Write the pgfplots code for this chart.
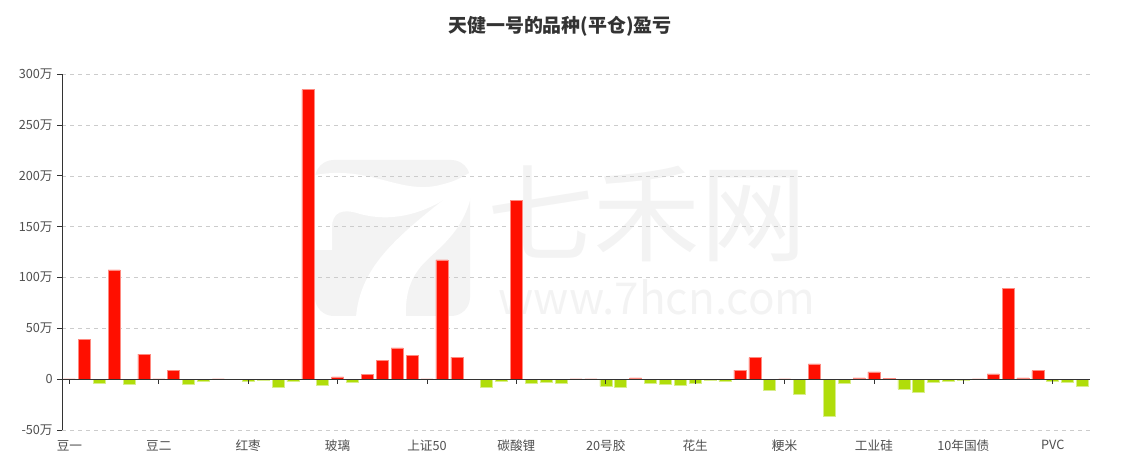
\documentclass[border=0pt]{standalone}
\usepackage{fontspec}
\setmainfont{Noto Sans CJK SC}
\usepackage{pgfplots}
\pgfplotsset{compat=1.18}
\definecolor{barred}{HTML}{FF0F00}
\definecolor{barredE}{HTML}{FF8A80}
\definecolor{bargreen}{HTML}{B0DD0A}
\definecolor{bargreenE}{HTML}{D8EE8A}
\definecolor{txt}{HTML}{333333}
\definecolor{lbl}{HTML}{4F4F4F}
\definecolor{gridc}{HTML}{CCCCCC}
\definecolor{wm}{HTML}{F3F3F3}
\begin{document}
\begin{tikzpicture}
\useasboundingbox (0,0) rectangle (849pt,355.5pt);
\node[text=txt,font=\bfseries\fontsize{14.2}{16}\selectfont] at (420pt,335.5pt) {天健一号的品种(平仓)盈亏};
% watermark (in image pixels, origin top-left)
\begin{scope}[shift={(0pt,355.5pt)}, x=0.75pt, y=-0.75pt]
  \fill[wm, rounded corners=14] (315,160) rectangle (470,316);
  \fill[white] (315,175) .. controls (370,165) and (400,195) .. (440,185)
     .. controls (455,181) .. (471,172) -- (471,197) -- (447,198)
     .. controls (420,215) and (390,222) .. (360,214)
     .. controls (342,208) and (332,212) .. (332,228) -- (332,250) -- (314,250) -- cycle;
  \fill[white] (447,197) -- (471,197) .. controls (462,232) and (440,247) .. (425,262)
     .. controls (410,277) and (405,295) .. (406,317) -- (356,317)
     .. controls (360,268) and (395,238) .. (447,197) -- cycle;
  \node[text=wm,font=\fontsize{80}{84}\selectfont] at (647,214) {七禾网};
  \node[text=wm,font=\fontsize{33}{36}\selectfont] at (657,297) {www.7hcn.com};
\end{scope}
\begin{axis}[
  scale only axis,
  width=771pt, height=266.8pt,
  at={(46.5pt,33pt)}, anchor=south west,
  xmin=-0.5, xmax=68.5,
  ymin=-50, ymax=300,
  ybar, bar width=9pt, bar shift=0pt,
  axis lines*=left,
  x axis line style={draw=none},
  y axis line style={draw=txt, line width=0.6pt},
  xtick={0,6,...,66},
  xticklabels={豆一,豆二,红枣,玻璃,上证50,碳酸锂,20号胶,花生,粳米,工业硅,10年国债,PVC},
  xtick style={draw=none},
  ytick={-50,0,50,100,150,200,250,300},
  yticklabels={-50万,0,50万,100万,150万,200万,250万,300万},
  ytick style={draw=txt, line width=0.6pt},
  tick align=outside,
  major tick length=3.5pt,
  ymajorgrids,
  major grid style={draw=gridc, dashed, line width=0.5pt},
  tick label style={text=lbl, font=\fontsize{9.5}{11}\selectfont},
  xticklabel style={yshift=-0.5pt},
  /pgf/number format/assume math mode=true,
]
\addplot[fill=barred, draw=barredE, line width=0.4pt] coordinates {
(0,0.3) (1,39.3) (3,107.5) (5,24.6) (6,0.3) (7,8.9) (10,0.3)
(16,285) (18,2.3) (20,4.9) (21,18.7) (22,30.8) (23,23.3) (24,0.2)
(25,117.4) (26,21.6) (30,175.7) (34,0.2) (35,0.4) (38,1.3)
(45,8.9) (46,21.3) (48,0.2) (50,15.1) (53,1.3) (54,7.2) (55,0.5)
(61,0.2) (62,5.2) (63,89.5) (64,1.3) (65,8.5)
};
\addplot[fill=bargreen, draw=bargreenE, line width=0.4pt] coordinates {
(2,-4.3) (4,-4.6) (8,-5.2) (9,-2.3) (11,-0.5) (12,-2.3) (13,-0.8)
(14,-7.5) (15,-2.3) (17,-6.2) (19,-2.6) (27,-0.5) (28,-7.9) (29,-2.0)
(31,-4.3) (32,-3.3) (33,-3.6) (36,-7.2) (37,-7.9) (39,-3.6) (40,-5.2)
(41,-6.2) (42,-3.6) (43,-1.0) (44,-2.0) (47,-11.1) (49,-14.8) (51,-36.7)
(52,-3.9) (56,-9.8) (57,-12.8) (58,-3.0) (59,-1.6) (60,-1.3)
(66,-2.3) (67,-2.6) (68,-7.2)
};
\draw[txt, line width=0.6pt] (axis cs:-0.5,0) -- (axis cs:68.5,0);
\pgfplotsinvokeforeach{0,6,12,18,24,30,36,42,48,54,60,66}{
  \draw[txt, line width=0.6pt] (axis cs:#1,0) -- ++(0pt,-3.5pt);
}
\end{axis}
\end{tikzpicture}
\end{document}
